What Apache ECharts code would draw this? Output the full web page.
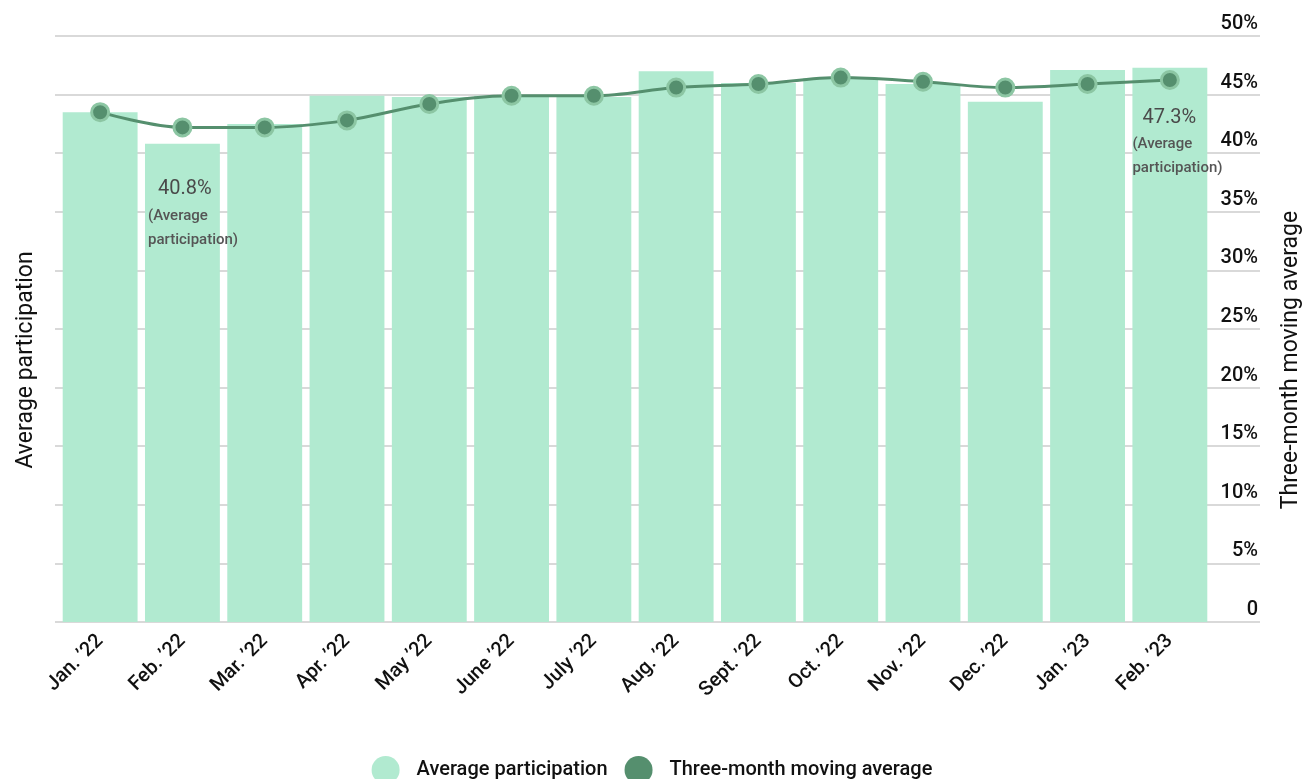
<!DOCTYPE html>
<html>
<head>
<meta charset="utf-8">
<script src="https://cdn.jsdelivr.net/npm/echarts@6/dist/echarts.min.js"></script>
<style>
  html, body { margin: 0; padding: 0; background: #fff; }
  #chart { width: 1304px; height: 779px; }
</style>
</head>
<body>
<div id="chart"></div>
<script>
const months = ['Jan. ’22', 'Feb. ’22', 'Mar. ’22', 'Apr. ’22', 'May ’22', 'June ’22', 'July ’22',
  'Aug. ’22', 'Sept. ’22', 'Oct. ’22', 'Nov. ’22', 'Dec. ’22', 'Jan. ’23', 'Feb. ’23']
const participation = [43.5, 40.8, 42.5, 44.9, 44.8, 44.9, 44.8, 47.0, 46.0, 46.4, 45.9, 44.4, 47.1, 47.3]
const movingAvg = [43.5, 42.2, 42.2, 42.8, 44.2, 44.9, 44.9, 45.6, 45.9, 46.45, 46.1, 45.6, 45.9, 46.25]

const barColor = '#b1ead0'
const lineColor = '#558f6e'
const font = 'Roboto'

// callout labels on the low and the last bar
const callouts = {
  1: [3, 34],
  13: [0, 39]
}

const barData = participation.map((v, i) => {
  if (!callouts[i]) return v
  return {
    value: v,
    label: {
      show: true,
      position: callouts[i],
      formatter: `{a|${v.toFixed(1)}%}\n{b|(Average}\n{b|participation)}`,
      rich: {
        a: { fontFamily: font, fontSize: 20, color: '#4a4a4a', padding: [0, 0, 4, 10], lineHeight: 26 },
        b: { fontFamily: font, fontSize: 15, fontWeight: 500, color: '#555', lineHeight: 24 }
      }
    }
  }
})

const chart = echarts.init(document.getElementById('chart'))

const option = {
  animation: false,
  textStyle: { fontFamily: font },
  grid: [
    { left: 55, right: 44, top: 36, bottom: 157 },
    { left: 59, right: 93, top: 36, bottom: 157 }
  ],
  xAxis: [
    { type: 'value', gridIndex: 0, show: false, min: 0, max: 1 },
    {
      type: 'category',
      gridIndex: 1,
      data: months,
      axisLine: { show: false },
      axisTick: { show: false },
      axisLabel: { rotate: 45, fontSize: 20, fontWeight: 500, color: '#111', margin: 16, fontFamily: font }
    }
  ],
  yAxis: [
    {
      type: 'value',
      gridIndex: 0,
      position: 'right',
      min: 0,
      max: 50,
      interval: 5,
      axisLine: { show: false },
      axisTick: { show: false },
      splitLine: { lineStyle: { color: '#cccccc', width: 1.5 } },
      axisLabel: {
        inside: true,
        margin: 2,
        fontSize: 20,
        fontWeight: 500,
        color: '#111',
        verticalAlign: 'bottom',
        padding: [0, 0, 2, 0],
        formatter: v => v === 0 ? '0' : v + '%'
      }
    },
    { type: 'value', gridIndex: 1, show: false, min: 0, max: 50 }
  ],
  legend: {
    top: 751,
    left: 'center',
    icon: 'circle',
    itemWidth: 28,
    itemHeight: 28,
    itemGap: 17,
    itemStyle: { borderWidth: 0 },
    textStyle: { fontSize: 20, fontWeight: 500, color: '#111', padding: [0, 0, 0, 12], fontFamily: font },
    data: ['Average participation', 'Three-month moving average']
  },
  graphic: [
    {
      type: 'text',
      x: 26,
      y: 360,
      rotation: Math.PI / 2,
      style: { text: 'Average participation', fontSize: 23, fill: '#111', fontFamily: font, align: 'center', verticalAlign: 'middle' }
    },
    {
      type: 'text',
      x: 1291,
      y: 360,
      rotation: Math.PI / 2,
      style: { text: 'Three-month moving average', fontSize: 23, fill: '#111', fontFamily: font, align: 'center', verticalAlign: 'middle' }
    }
  ],
  series: [
    {
      name: 'Average participation',
      type: 'bar',
      xAxisIndex: 1,
      yAxisIndex: 1,
      barCategoryGap: '9%',
      itemStyle: { color: barColor },
      data: barData
    },
    {
      name: 'Three-month moving average',
      type: 'line',
      xAxisIndex: 1,
      yAxisIndex: 1,
      smooth: 0.35,
      symbol: 'circle',
      symbolSize: 17,
      lineStyle: { color: lineColor, width: 3 },
      itemStyle: { color: lineColor, borderColor: '#8cc6a3', borderWidth: 3 },
      z: 5,
      data: movingAvg
    }
  ]
}

chart.setOption(option)
</script>
</body>
</html>
